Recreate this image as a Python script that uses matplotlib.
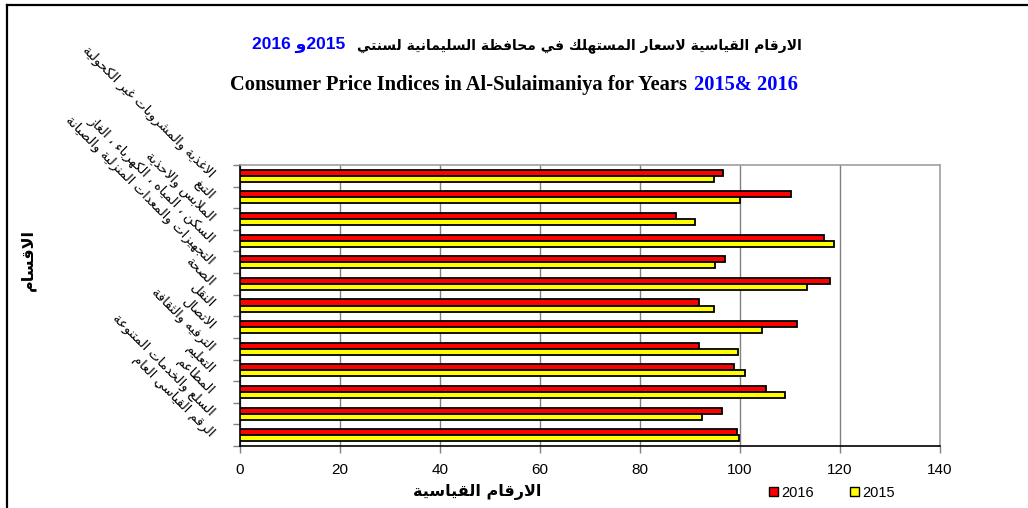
import matplotlib
matplotlib.use('Agg')
import matplotlib.pyplot as plt
from matplotlib.lines import Line2D
from matplotlib.patches import Patch
from matplotlib.offsetbox import TextArea, HPacker, AnnotationBbox

# categories top to bottom
categories = [
    "الاغذية والمشروبات غير الكحولية",
    "التبغ",
    "الملابس والاحذية",
    "السكن ، المياه ، الكهرباء ، الغاز",
    "التجهيزات والمعدات المنزلية والصيانة",
    "الصحة",
    "النقل",
    "الاتصال",
    "الترفيه والثقافة",
    "التعليم",
    "المطاعم",
    "السلع والخدمات المتنوعة",
    "الرقم القياسي العام",
]
cpi_2016 = [96.5, 110.1, 87.1, 116.7, 96.9, 118.0, 91.7, 111.3, 91.7, 98.7, 105.1, 96.3, 99.3]
cpi_2015 = [94.7, 100.0, 90.9, 118.8, 94.9, 113.3, 94.7, 104.3, 99.5, 101.0, 108.9, 92.3, 99.7]
years = ["2016", "2015"]
x_ticks = [0, 20, 40, 60, 80, 100, 120, 140]

title_ar = "الارقام القياسية لاسعار المستهلك في محافظة السليمانية لسنتي"
title_en = "Consumer Price Indices in Al-Sulaimaniya for Years"
xlabel_ar = "الارقام القياسية"
ylabel_ar = "الاقسام"

# matplotlib does no arabic shaping / bidi, so do it by hand
DUAL = {'ب': 0xFE8F, 'ت': 0xFE95, 'ث': 0xFE99, 'ج': 0xFE9D, 'ح': 0xFEA1, 'خ': 0xFEA5,
        'س': 0xFEB1, 'ش': 0xFEB5, 'ص': 0xFEB9, 'ض': 0xFEBD, 'ط': 0xFEC1, 'ظ': 0xFEC5,
        'ع': 0xFEC9, 'غ': 0xFECD, 'ف': 0xFED1, 'ق': 0xFED5, 'ك': 0xFED9, 'ل': 0xFEDD,
        'م': 0xFEE1, 'ن': 0xFEE5, 'ه': 0xFEE9, 'ي': 0xFEF1, 'ئ': 0xFE89}
RIGHT = {'آ': 0xFE81, 'أ': 0xFE83, 'ؤ': 0xFE85, 'إ': 0xFE87, 'ا': 0xFE8D, 'ة': 0xFE93,
         'د': 0xFEA9, 'ذ': 0xFEAB, 'ر': 0xFEAD, 'ز': 0xFEAF, 'و': 0xFEED, 'ى': 0xFEEF}
LAM_ALEF = {'آ': 0xFEF5, 'أ': 0xFEF7, 'إ': 0xFEF9, 'ا': 0xFEFB}


def shape(text):
    tokens = []
    i = 0
    while i < len(text):
        ch = text[i]
        if ch == 'ل' and i + 1 < len(text) and text[i + 1] in LAM_ALEF:
            tokens.append(('R', LAM_ALEF[text[i + 1]]))
            i += 2
            continue
        if ch in DUAL:
            tokens.append(('D', DUAL[ch]))
        elif ch in RIGHT:
            tokens.append(('R', RIGHT[ch]))
        elif ch == 'ء':
            tokens.append(('U', chr(0xFE80)))
        else:
            tokens.append(('X', ch))
        i += 1
    out = []
    for k, (kind, val) in enumerate(tokens):
        if kind in ('X', 'U'):
            out.append(val)
            continue
        prev_j = k > 0 and tokens[k - 1][0] == 'D'
        next_j = kind == 'D' and k + 1 < len(tokens) and tokens[k + 1][0] in ('D', 'R')
        off = {(False, False): 0, (True, False): 1, (False, True): 2, (True, True): 3}[(prev_j, next_j)]
        out.append(chr(val + off))
    return ''.join(out[::-1])


plt.rcParams['font.family'] = ['DejaVu Sans']

fig = plt.figure(figsize=(10.28, 5.08), dpi=100)
W, H = 1028, 508

# outer frame (top + left only visible)
fig.add_artist(Line2D([7 / W, 1], [1 - 5 / H, 1 - 5 / H], transform=fig.transFigure, color='black', lw=1.6))
fig.add_artist(Line2D([7 / W, 7 / W], [0, 1 - 5 / H], transform=fig.transFigure, color='black', lw=1.6))

ax = fig.add_axes([240 / W, 62 / H, 700 / W, 281 / H])

y = list(range(len(categories)))
h = 0.28
ax.barh([v - h / 2 for v in y], cpi_2016, height=h, color='#ff0000', edgecolor='black', lw=1.3, zorder=3)
ax.barh([v + h / 2 for v in y], cpi_2015, height=h, color='#ffff00', edgecolor='black', lw=1.3, zorder=3)

ax.set_xlim(0, 140)
ax.set_ylim(len(categories) - 0.5, -0.5)
ax.set_xticks(x_ticks)
ax.set_xticklabels([str(t) for t in x_ticks], fontfamily='Liberation Sans', fontsize=11)
ax.set_yticks([v - 0.5 for v in range(len(categories) + 1)])
ax.set_yticklabels([])
ax.tick_params(axis='both', color='#808080', length=5, width=1)
ax.tick_params(axis='x', pad=7)
ax.grid(axis='x', color='#808080', lw=1, zorder=0)
ax.spines['top'].set_color('#a0a0a0')
ax.spines['right'].set_color('#a0a0a0')
ax.spines['left'].set_color('black')
ax.spines['bottom'].set_color('black')
for s in ax.spines.values():
    s.set_linewidth(1.2)

# rotated category labels
for i, name in enumerate(categories):
    ax.annotate(shape(name), xy=(0, i), xycoords=ax.get_yaxis_transform(),
                xytext=(-20, 0), textcoords='offset points', rotation=-45,
                rotation_mode='anchor', ha='right', va='center', fontsize=9.5)

fig.text(477 / W, 1 - 492 / H, shape(xlabel_ar), ha='center', va='center', fontsize=11.5, fontweight='bold')
fig.text(28 / W, 1 - 260 / H, shape(ylabel_ar), ha='center', va='center', fontsize=11.5,
         fontweight='bold', rotation=90)


def colored_line(parts, x, y, sep):
    boxes = [TextArea(t, textprops=dict(color=c, **kw)) for t, c, kw in parts]
    pack = HPacker(children=boxes, align='baseline', pad=0, sep=sep)
    fig.add_artist(AnnotationBbox(pack, (x, y), xycoords='figure fraction', frameon=False,
                                  box_alignment=(0.5, 0.5), pad=0))


blue = '#0000ff'
ar_kw = dict(fontsize=10, fontweight='bold', family=['DejaVu Sans'])
num_kw = dict(fontsize=12.5, fontweight='bold', family=['Liberation Sans', 'DejaVu Sans'])
en_kw = dict(fontsize=14.8, fontweight='bold', family='Liberation Serif')
colored_line([(years[0] + " " + shape("و") + years[1], blue, num_kw), (shape(title_ar), 'black', ar_kw)],
             527 / W, 1 - 45 / H, 9)
colored_line([(title_en, 'black', en_kw), (years[1] + "& " + years[0], blue, en_kw)],
             514 / W, 1 - 85 / H, 5)

handles = [Patch(facecolor='#ff0000', edgecolor='black'), Patch(facecolor='#ffff00', edgecolor='black')]
fig.legend(handles, years, loc='center', bbox_to_anchor=(832 / W, 1 - 493 / H), ncol=2, frameon=False,
           handlelength=0.6, handleheight=0.6, handletextpad=0.2, columnspacing=2.5,
           prop={'family': 'Liberation Sans', 'size': 10.5})

fig.savefig('out.png', dpi=100)
